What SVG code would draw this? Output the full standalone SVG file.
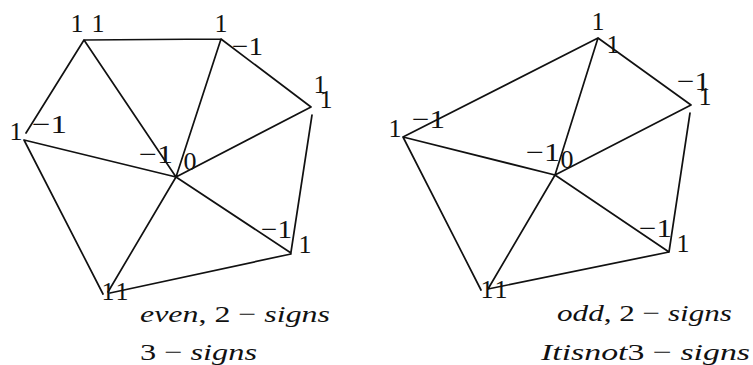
<svg xmlns="http://www.w3.org/2000/svg" width="753" height="365" viewBox="0 0 753 365">
<style>
.e{stroke:#111;stroke-width:1.7;fill:none;stroke-linecap:round}
.l{font-family:"Liberation Serif","Times New Roman",serif;font-size:26px;fill:#111}
.m{text-anchor:middle}
.c{font-family:"Liberation Serif","Times New Roman",serif;font-size:24px;fill:#111}
.i{font-style:italic}
</style>
<rect width="753" height="365" fill="#fff"/>
<g id="connectors">
<path class="e" d="M84 40L221 39M221 39L311 107M221 39L176 177M84 40L26 133M84 40L176 177M311 107L176 177M24 140L176 177M24 140L103 294M176 177L108 292M176 177L291 253M110 293L291 254M312 115L291 252"/>
<path class="e" d="M403 137L598 38M598 38L691 105M598 38L555 175M691 105L555 175M403 137L555 175M555 175L488 289M555 175L669 252M403 137L481 290M488 289L669 252M690 113L669 252"/>
</g>
<g id="left-A"><text class="l m" x="77" y="32">1</text><text class="l m" x="98" y="32">1</text></g>
<g id="left-B"><text class="l m" x="221" y="32">1</text><text class="l" x="232" y="55" textLength="31" lengthAdjust="spacingAndGlyphs">−1</text></g>
<g id="left-D"><text class="l m" x="320" y="93">1</text><text class="l m" x="326" y="108">1</text></g>
<g id="left-E"><text class="l m" x="16" y="140">1</text><text class="l" x="32" y="133" textLength="35" lengthAdjust="spacingAndGlyphs">−1</text></g>
<g id="left-C"><text class="l" x="139" y="163" textLength="34" lengthAdjust="spacingAndGlyphs">−1</text><text class="l m" x="190" y="170">0</text></g>
<g id="left-G"><text class="l" x="261" y="238" textLength="31" lengthAdjust="spacingAndGlyphs">−1</text><text class="l m" x="305" y="253">1</text></g>
<g id="left-F"><text class="l m" x="108" y="300">1</text><text class="l m" x="122" y="300">1</text></g>
<g id="right-P"><text class="l m" x="598" y="30">1</text><text class="l m" x="613" y="53">1</text></g>
<g id="right-Q"><text class="l" x="677" y="90" textLength="33" lengthAdjust="spacingAndGlyphs">−1</text><text class="l m" x="705" y="105">1</text></g>
<g id="right-R"><text class="l m" x="395" y="137">1</text><text class="l" x="412" y="128" textLength="33" lengthAdjust="spacingAndGlyphs">−1</text></g>
<g id="right-S"><text class="l" x="526" y="161" textLength="34" lengthAdjust="spacingAndGlyphs">−1</text><text class="l m" x="567" y="168">0</text></g>
<g id="right-T"><text class="l" x="639" y="237" textLength="33" lengthAdjust="spacingAndGlyphs">−1</text><text class="l m" x="683" y="252">1</text></g>
<g id="right-U"><text class="l m" x="487" y="298">1</text><text class="l m" x="501" y="298">1</text></g>
<g id="captions">
<text class="c" x="140" y="322" textLength="190" lengthAdjust="spacingAndGlyphs"><tspan class="i">even</tspan>, 2 − <tspan class="i">signs</tspan></text>
<text class="c" x="140" y="360" textLength="117" lengthAdjust="spacingAndGlyphs">3 − <tspan class="i">signs</tspan></text>
<text class="c" x="557" y="321" textLength="175" lengthAdjust="spacingAndGlyphs"><tspan class="i">odd</tspan>, 2 − <tspan class="i">signs</tspan></text>
<text class="c" x="541" y="360" textLength="209" lengthAdjust="spacingAndGlyphs"><tspan class="i">Itisnot</tspan>3 − <tspan class="i">signs</tspan></text>
</g>
</svg>
